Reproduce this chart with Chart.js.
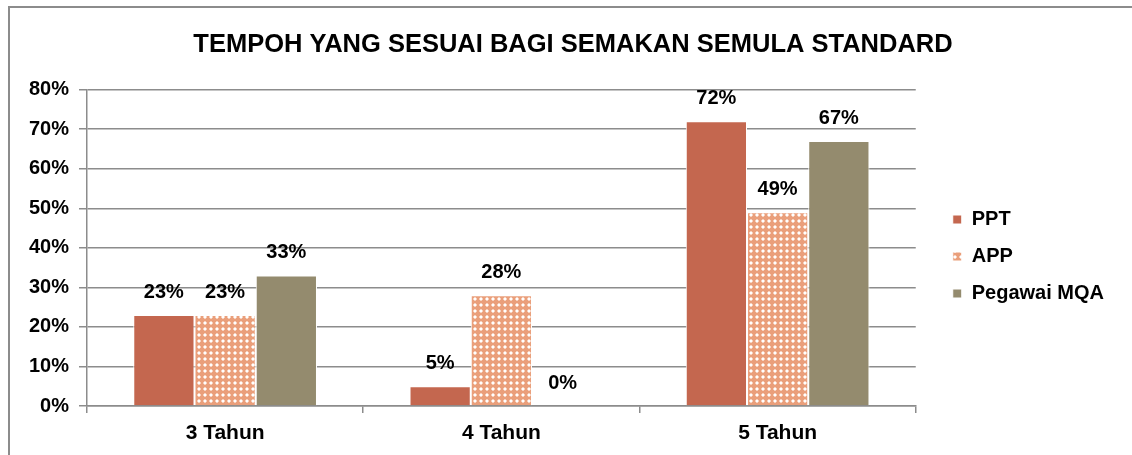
<!DOCTYPE html>
<html>
<head>
<meta charset="utf-8">
<script src="https://cdn.jsdelivr.net/npm/chart.js@4.4.1/dist/chart.umd.min.js"></script>
<style>
  body { margin: 0; background: #fff; }
  #frame {
    position: absolute; left: 8px; top: 6px; width: 1124px; height: 449px;
    border-left: 2px solid #8c8c8c; border-top: 2px solid #8c8c8c;
    box-sizing: border-box;
  }
  #myChart { position: absolute; left: 0; top: 0; }
</style>
</head>
<body>
<div id="frame"><canvas id="myChart" width="1122" height="447"></canvas></div>
<script>
  const labels = ['3 Tahun', '4 Tahun', '5 Tahun'];
  const pptValues = [0.23, 0.05, 0.72];
  const appValues = [0.23, 0.28, 0.49];
  const mqaValues = [0.33, 0, 0.67];

  const fontFamily = "'Liberation Sans', Arial, sans-serif";

  // dotted fill for the APP bars
  function dotPattern() {
    const c = document.createElement('canvas');
    c.width = 6; c.height = 6;
    const g = c.getContext('2d');
    g.fillStyle = '#EA9F7B';
    g.fillRect(0, 0, 6, 6);
    g.fillStyle = '#F6D2C0';
    g.fillRect(1, 2, 4, 2);
    g.fillRect(2, 1, 2, 4);
    g.fillStyle = '#ffffff';
    g.fillRect(2, 2, 2, 2);
    return g.createPattern(c, 'repeat');
  }
  const appFill = dotPattern();

  const valueLabels = {
    id: 'valueLabels',
    afterDatasetsDraw(chart) {
      const ctx = chart.ctx;
      ctx.save();
      ctx.font = 'bold 20px ' + fontFamily;
      ctx.fillStyle = '#000';
      ctx.textAlign = 'center';
      ctx.textBaseline = 'middle';
      chart.data.datasets.forEach((ds, i) => {
        chart.getDatasetMeta(i).data.forEach((bar, j) => {
          ctx.fillText(Math.round(ds.data[j] * 100) + '%', bar.x, bar.y - 23);
        });
      });
      ctx.restore();
    }
  };

  // nudge legend and title to where the original sits
  const nudge = {
    id: 'nudge',
    afterLayout(chart) {
      const l = chart.legend;
      l.left += 20; l.right += 20;
      l.top += 25; l.bottom += 25;
      chart.titleBlock.right += 42;
    }
  };

  const data1 = {
    labels: labels,
    datasets: [{
      label: 'PPT',
      backgroundColor: '#C4674F',
      borderColor: '#ffffff',
      borderWidth: 1,
      data: pptValues
    }, {
      label: 'APP',
      backgroundColor: appFill,
      borderColor: '#ffffff',
      borderWidth: 1,
      data: appValues
    }, {
      label: 'Pegawai MQA',
      backgroundColor: '#948B6E',
      borderColor: '#ffffff',
      borderWidth: 1,
      data: mqaValues
    }]
  };

  const config = {
    type: 'bar',
    data: data1,
    plugins: [valueLabels, nudge],
    options: {
      responsive: false,
      animation: false,
      devicePixelRatio: 1,
      categoryPercentage: 0.665,
      barPercentage: 1,
      layout: { padding: { right: 38 } },
      plugins: {
        title: {
          display: true,
          text: 'TEMPOH YANG SESUAI BAGI SEMAKAN SEMULA STANDARD',
          color: '#000',
          font: { family: fontFamily, size: 25.5, weight: 'bold' },
          padding: { top: 22, bottom: 29 }
        },
        legend: {
          position: 'right',
          labels: {
            color: '#000',
            boxWidth: 9,
            boxHeight: 9,
            padding: 17,
            font: { family: fontFamily, size: 20, weight: 'bold' }
          }
        },
        tooltip: { enabled: false }
      },
      scales: {
        x: {
          grid: { display: true, drawOnChartArea: false, color: '#8c8c8c', lineWidth: 1.5, tickLength: 7 },
          border: { color: '#8c8c8c', width: 1.5 },
          ticks: { color: '#000', padding: 8, font: { family: fontFamily, size: 21, weight: 'bold' } },
          afterFit(s) { s.height = 49; }
        },
        y: {
          min: 0,
          max: 0.8,
          ticks: {
            stepSize: 0.1,
            color: '#000',
            padding: 10,
            font: { family: fontFamily, size: 20, weight: 'bold' },
            callback: v => Math.round(v * 100) + '%'
          },
          grid: { color: '#8c8c8c', lineWidth: 1.5, tickLength: 8 },
          border: { color: '#8c8c8c', width: 1.5 },
          afterFit(s) { s.width = 77; }
        }
      }
    }
  };

  const myChart = new Chart(
    document.getElementById('myChart'),
    config
  );
</script>
</body>
</html>
